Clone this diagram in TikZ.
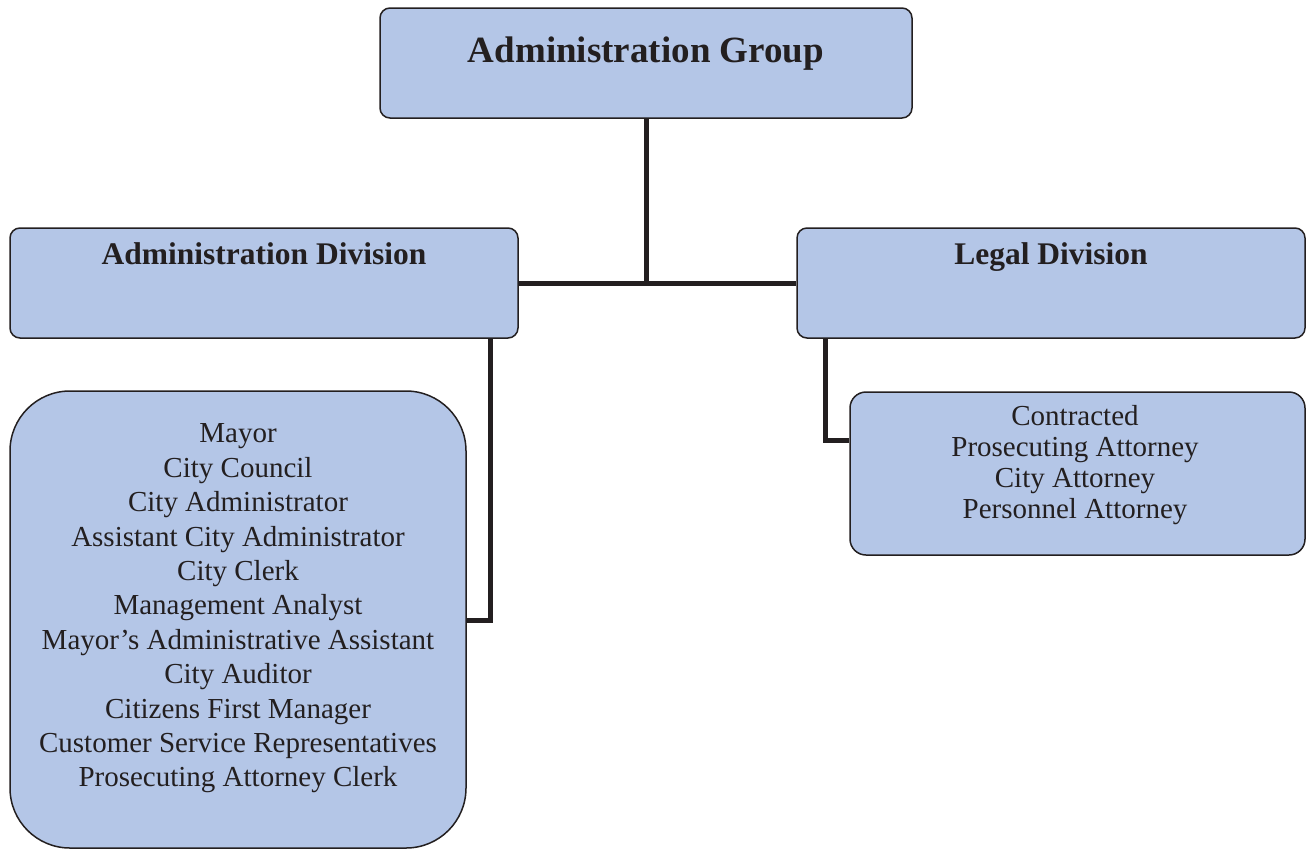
\documentclass[tikz,border=0pt]{standalone}
\usepackage{fontspec}
\setmainfont{Liberation Serif}
\definecolor{boxfill}{HTML}{B4C6E7}
\definecolor{ink}{HTML}{231F20}
\begin{document}
\begin{tikzpicture}[x=1pt,y=-1pt,
  unitbox/.style={draw=ink, line width=1.5pt, fill=boxfill, rectangle,
    rounded corners=10pt, inner sep=0pt},
  link/.style={draw=ink, line width=5pt},
  headtext/.style={text=ink, inner sep=0pt, anchor=base,
    font=\bfseries\fontsize{31.5}{36}\selectfont},
  listtext/.style={text=ink, inner sep=0pt, align=center}]
\useasboundingbox (0,0) rectangle (1313,849);

% boxes
\node[unitbox, minimum width=532pt, minimum height=110pt] (grp) at (646,63) {};
\node[unitbox, minimum width=508pt, minimum height=110pt] (adiv) at (264,283) {};
\node[unitbox, minimum width=508pt, minimum height=110pt] (ldiv) at (1051,283) {};
\node[unitbox, rounded corners=60pt, minimum width=456pt, minimum height=457pt] (alist) at (238,619.5) {};
\node[unitbox, rounded corners=16pt, minimum width=455pt, minimum height=163pt] (llist) at (1077.5,473.5) {};

% box titles
\node[headtext, font=\bfseries\fontsize{37}{42}\selectfont] (grpt) at (646,62) {Administration Group};
\node[headtext] (adivt) at (264,264) {Administration Division};
\node[headtext] (ldivt) at (1051,264) {Legal Division};

% staff lists
\node[listtext, font=\fontsize{29}{34.4}\selectfont] (alistt) at (238,608.5) {Mayor\\City Council\\City Administrator\\Assistant City Administrator\\City Clerk\\Management Analyst\\Mayor’s Administrative Assistant\\City Auditor\\Citizens First Manager\\Customer Service Representatives\\Prosecuting Attorney Clerk};
\node[listtext, font=\fontsize{29}{31}\selectfont] (llistt) at (1075,464.8) {Contracted\\Prosecuting Attorney\\City Attorney\\Personnel Attorney};

% connectors
\coordinate (a1) at (490,620);
\coordinate (l1) at (825,440);
\draw[link] (grp.south) -- (grp.south |- adiv.east);
\draw[link] (adiv.east) -- (ldiv.west);
\draw[link, line join=miter] (a1 |- adiv.south) -- (a1) -- (a1 -| alist.east);
\draw[link, line join=miter] (l1 |- ldiv.south) -- (l1) -- (l1 -| llist.west);
\end{tikzpicture}
\end{document}
